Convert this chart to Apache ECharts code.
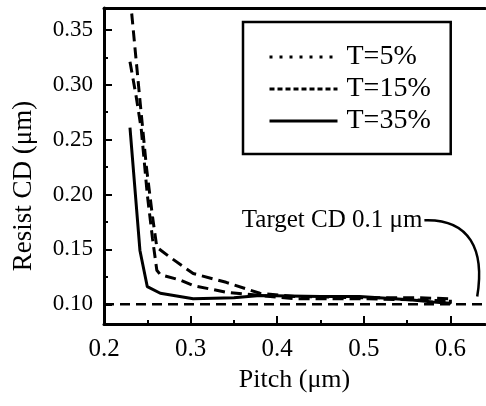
<!DOCTYPE html>
<html>
<head>
<meta charset="utf-8">
<script src="https://cdn.jsdelivr.net/npm/echarts@6/dist/echarts.min.js"></script>
<style>
  html, body { margin: 0; padding: 0; background: #fff; }
  #chart { width: 486px; height: 406px; }
</style>
</head>
<body>
<div id="chart"></div>
<script>
// curves (pitch in um, resist CD in um)
var pitch5 = [0.232, 0.2415, 0.249, 0.256, 0.261, 0.276, 0.303, 0.341, 0.380, 0.420, 0.500, 0.560, 0.600];
var cd5 = [0.365, 0.286, 0.225, 0.180, 0.152, 0.143, 0.128, 0.120, 0.110, 0.107, 0.106, 0.106, 0.105];
var pitch15 = [0.230, 0.237, 0.243, 0.250, 0.256, 0.261, 0.265, 0.288, 0.303, 0.341, 0.380, 0.420, 0.500, 0.560, 0.600];
var cd15 = [0.321, 0.290, 0.260, 0.200, 0.160, 0.131, 0.127, 0.122, 0.117, 0.111, 0.108, 0.105, 0.105, 0.104, 0.103];
var pitch35 = [0.230, 0.2415, 0.250, 0.265, 0.303, 0.350, 0.380, 0.450, 0.495, 0.553, 0.580, 0.600, 0.600];
var cd35 = [0.261, 0.149, 0.116, 0.110, 0.105, 0.106, 0.108, 0.107, 0.107, 0.104, 0.102, 0.101, 0.104];
var targetPitch = [0.2, 0.64];
var targetCD = [0.1, 0.1];

var xMajor = [0.2, 0.3, 0.4, 0.5, 0.6];
var xMinor = [0.25, 0.35, 0.45, 0.55];
var yMajor = [0.10, 0.15, 0.20, 0.25, 0.30, 0.35];
var yMinor = [0.125, 0.175, 0.225, 0.275, 0.325];

// leader line of the "Target CD" note, in data coords: start, ctrl1, ctrl2, end
var notePath = [[0.570, 0.1766], [0.622, 0.178], [0.640, 0.150], [0.631, 0.107]];

function zip(a, b) {
  return a.map(function (v, i) { return [v, b[i]]; });
}

var font = '"Liberation Serif", "DejaVu Serif", serif';
var myChart = echarts.init(document.getElementById('chart'));

var option = {
  backgroundColor: '#fff',
  animation: false,
  textStyle: { fontFamily: font, color: '#000' },
  grid: { left: 104, right: 1, top: 8, bottom: 82 },
  legend: {
    orient: 'vertical',
    left: 243,
    top: 22,
    padding: [21, 20, 19, 25],
    itemGap: 4,
    itemWidth: 68,
    itemHeight: 20,
    borderColor: '#000',
    borderWidth: 2.5,
    textStyle: { fontFamily: font, fontSize: 28, color: '#000', padding: [0, 0, 0, 4] },
    data: [
      { name: 'T=5%', lineStyle: { type: [3, 7], width: 3, color: '#000' }, itemStyle: { opacity: 0 } },
      { name: 'T=15%', lineStyle: { type: [5, 3], width: 3, color: '#000' }, itemStyle: { opacity: 0 } },
      { name: 'T=35%', lineStyle: { type: 'solid', width: 3, color: '#000' }, itemStyle: { opacity: 0 } }
    ]
  },
  xAxis: [{
    type: 'value', min: 0.2, max: 0.64, position: 'bottom',
    name: 'Pitch (μm)', nameLocation: 'middle', nameGap: 43,
    nameTextStyle: { fontFamily: font, fontSize: 26, color: '#000' },
    axisLine: { lineStyle: { color: '#000', width: 3 } },
    axisTick: { inside: true, length: 8, lineStyle: { color: '#000', width: 2 }, customValues: xMajor },
    axisLabel: { margin: 13, fontFamily: font, fontSize: 25, color: '#000', customValues: xMajor,
      formatter: function (v) { return v.toFixed(1); } },
    splitLine: { show: false }
  }, {
    type: 'value', min: 0.2, max: 0.64, position: 'bottom', offset: 0,
    axisLine: { show: false },
    axisTick: { inside: true, length: 4, lineStyle: { color: '#000', width: 2 }, customValues: xMinor },
    axisLabel: { show: false },
    splitLine: { show: false }
  }, {
    type: 'value', min: 0.2, max: 0.64, position: 'top',
    axisLine: { lineStyle: { color: '#000', width: 3 } },
    axisTick: { show: false },
    axisLabel: { show: false },
    splitLine: { show: false }
  }],
  yAxis: [{
    type: 'value', min: 0.082, max: 0.37, position: 'left',
    axisLine: { lineStyle: { color: '#000', width: 3 } },
    axisTick: { inside: true, length: 8, lineStyle: { color: '#000', width: 2 }, customValues: yMajor },
    axisLabel: { margin: 11, fontFamily: font, fontSize: 23, color: '#000', customValues: yMajor,
      formatter: function (v) { return v.toFixed(2); } },
    splitLine: { show: false }
  }, {
    type: 'value', min: 0.082, max: 0.37, position: 'left', offset: 0,
    axisLine: { show: false },
    axisTick: { inside: true, length: 4, lineStyle: { color: '#000', width: 2 }, customValues: yMinor },
    axisLabel: { show: false },
    splitLine: { show: false }
  }],
  series: [{
    name: 'Target', type: 'line', symbol: 'none', silent: true,
    data: zip(targetPitch, targetCD),
    lineStyle: { color: '#000', width: 2.5, type: [10, 6] }
  }, {
    name: 'T=5%', type: 'line', symbol: 'none',
    data: zip(pitch5, cd5),
    lineStyle: { color: '#000', width: 3, type: [11, 6] }
  }, {
    name: 'T=15%', type: 'line', symbol: 'none',
    data: zip(pitch15, cd15),
    lineStyle: { color: '#000', width: 3, type: [11, 6] }
  }, {
    name: 'T=35%', type: 'line', symbol: 'none',
    data: zip(pitch35, cd35),
    lineStyle: { color: '#000', width: 3 }
  }]
};
myChart.setOption(option);

// note text and curved leader, placed through the axes
var p = notePath.map(function (d) { return myChart.convertToPixel({ xAxisIndex: 0, yAxisIndex: 0 }, d); });
myChart.setOption({
  graphic: [{
    type: 'text', x: p[0][0] - 2, y: p[0][1],
    style: { text: 'Target CD 0.1 μm', font: '25px ' + font, fill: '#000', align: 'right', verticalAlign: 'middle' }
  }, {
    type: 'bezierCurve',
    shape: { x1: p[0][0], y1: p[0][1], cpx1: p[1][0], cpy1: p[1][1], cpx2: p[2][0], cpy2: p[2][1], x2: p[3][0], y2: p[3][1] },
    style: { stroke: '#000', lineWidth: 2.5, fill: 'none' }
  }, {
    type: 'text', x: 24, y: 186, rotation: Math.PI / 2,
    style: { text: 'Resist CD (μm)', font: '27px ' + font, fill: '#000', align: 'center', verticalAlign: 'middle' }
  }]
});

window.addEventListener('resize', function () { myChart.resize(); });
</script>
</body>
</html>
